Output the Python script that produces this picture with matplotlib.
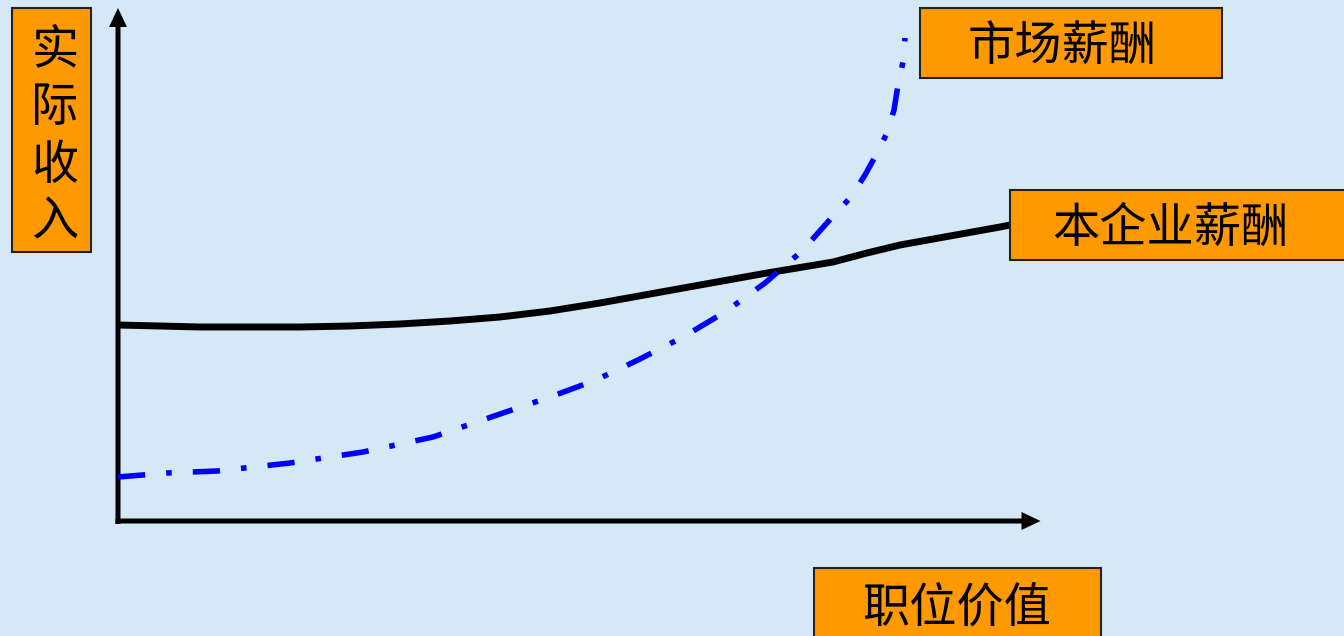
import matplotlib.pyplot as plt
from matplotlib.patches import Rectangle

plt.rcParams['font.family'] = ['Noto Sans CJK SC', 'DejaVu Sans']

# Curves (pixel coordinates, y grows downward)
company_x = [118, 160, 200, 250, 300, 350, 400, 450, 500, 550, 600, 650, 700, 767,
             833, 867, 900, 950, 1000, 1010]
company_y = [325, 326, 327, 327, 327, 326, 324, 321, 317, 311, 303, 294, 285, 273,
             262, 253, 245, 236, 227, 225]

market_x = [118, 167, 217, 290, 363, 433, 503, 550, 596, 638, 683, 725, 765, 802,
            834, 851, 865, 876, 887, 894, 898, 903, 905]
market_y = [477, 473, 471, 463, 452, 437, 413, 397, 380, 360, 337, 312, 283, 251,
            215, 197, 175, 155, 133, 110, 85, 62, 38]

y_label = '实际收入'
x_label = '职位价值'
market_label = '市场薪酬'
company_label = '本企业薪酬'

bg = '#D5E8F5'
orange = '#FF9900'

fig = plt.figure(figsize=(13.44, 6.36), dpi=100)
fig.patch.set_facecolor(bg)
ax = fig.add_axes([0, 0, 1, 1])
ax.set_xlim(0, 1344)
ax.set_ylim(636, 0)
ax.axis('off')

# axes with arrows
ax.arrow(118, 524, 0, -516, width=5, head_width=18, head_length=19,
         length_includes_head=True, color='black', lw=0)
ax.arrow(115.5, 521, 925, 0, width=5, head_width=18, head_length=19,
         length_includes_head=True, color='black', lw=0)

# curves
ax.plot(company_x, company_y, color='black', lw=5, solid_capstyle='butt',
        solid_joinstyle='round')
ax.plot(market_x, market_y, color='#0000FF', lw=4, dashes=(4.9, 3.8, 1.0, 3.8),
        dash_capstyle='butt')


# label boxes
def box(x0, y0, w, h):
    ax.add_patch(Rectangle((x0, y0), w, h, facecolor=orange, edgecolor='#222222', lw=1.5,
                           zorder=3))


box(12, 8, 79, 244)
for ch, cy in zip(y_label, [50, 108, 166, 222]):
    ax.text(55, cy, ch, ha='center', va='center', fontsize=34, zorder=4)

box(920, 8, 302, 70)
ax.text(1062, 48, market_label, ha='center', va='center', fontsize=34, zorder=4)

box(1010, 190, 340, 70)
ax.text(1170, 229, company_label, ha='center', va='center', fontsize=34, zorder=4)

box(814, 568, 287, 80)
ax.text(957, 608, x_label, ha='center', va='center', fontsize=34, zorder=4)

fig.savefig('out.png', dpi=100, facecolor=bg)
